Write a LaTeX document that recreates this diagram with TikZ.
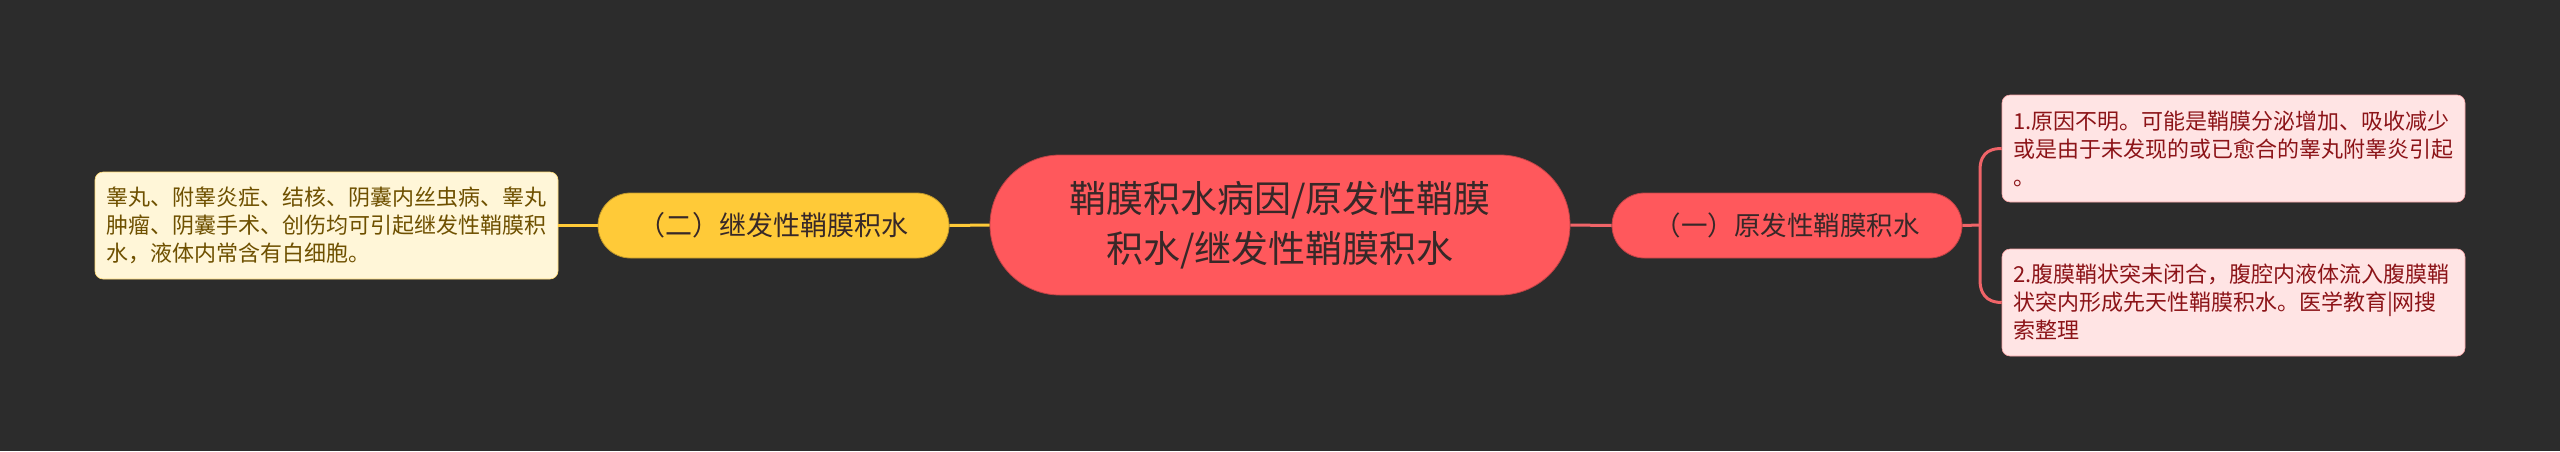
\documentclass[tikz,border=0pt]{standalone}
\usepackage{fontspec}
\setmainfont{Noto Sans CJK SC}
\definecolor{bg}{RGB}{44,44,44}
\definecolor{redfill}{RGB}{255,88,92}
\definecolor{redline}{RGB}{240,100,104}
\definecolor{yel}{RGB}{255,202,56}
\definecolor{pinkfill}{RGB}{255,228,228}
\definecolor{pinktext}{RGB}{140,20,24}
\definecolor{creamfill}{RGB}{255,246,216}
\definecolor{creamtext}{RGB}{110,80,0}
\definecolor{darktext}{RGB}{55,40,40}
\tikzset{
  centerbox/.style={fill=redfill, draw=redfill!75!black, line width=0.8pt, rounded corners=70pt, minimum width=580pt, minimum height=140pt, inner sep=0pt, align=center, text=darktext, font=\fontsize{37}{50}\selectfont},
  redbox/.style={fill=redfill, draw=redfill!75!black, line width=0.8pt, rounded corners=32.5pt, minimum width=350pt, minimum height=65pt, inner sep=0pt, text=darktext, font=\fontsize{26.5}{32}\selectfont},
  yelbox/.style={fill=yel, draw=yel!75!black, line width=0.8pt, rounded corners=32.5pt, minimum width=351pt, minimum height=65pt, inner sep=0pt, text=darktext, font=\fontsize{27}{32}\selectfont},
  leaf/.style={rounded corners=8pt, minimum height=107pt, text width=441pt, inner xsep=11pt, inner ysep=0pt, align=left, font=\fontsize{22}{28}\selectfont},
  pinkleaf/.style={leaf, fill=pinkfill, draw=redline!60!white, line width=0.6pt, text=pinktext},
  creamleaf/.style={leaf, fill=creamfill, draw=yel!70!white, line width=0.6pt, text=creamtext},
  redcon/.style={draw=redline, line width=3pt},
  yelcon/.style={draw=yel, line width=3pt},
}
\begin{document}
\begin{tikzpicture}[x=1pt,y=-1pt]
\fill[bg] (0,0) rectangle (2560,451);
\useasboundingbox (0,0) rectangle (2560,451);

\node[centerbox] (c) at (1280,225) {鞘膜积水病因/原发性鞘膜\\积水/继发性鞘膜积水};
\node[yelbox] (y) at (773.5,225.5) {（二）继发性鞘膜积水};
\node[redbox] (r) at (1787,225.5) {（一）原发性鞘膜积水};
\node[creamleaf] (l) at (326.5,225.5) {睾丸、附睾炎症、结核、阴囊内丝虫病、睾丸\\肿瘤、阴囊手术、创伤均可引起继发性鞘膜积\\水，液体内常含有白细胞。};
\node[pinkleaf] (p1) at (2233.5,148.5) {1.原因不明。可能是鞘膜分泌增加、吸收减少\\或是由于未发现的或已愈合的睾丸附睾炎引起\\。};
\node[pinkleaf] (p2) at (2233.5,302.5) {2.腹膜鞘状突未闭合，腹腔内液体流入腹膜鞘\\状突内形成先天性鞘膜积水。医学教育|网搜\\索整理};

\coordinate (j) at (1980,225);
\coordinate (ju) at (1980,170);
\coordinate (jd) at (1980,280);
\coordinate (cu) at (1980,150);
\coordinate (cd) at (1980,300);

\draw[yelcon] (l.east) -- (y.west);
\draw[yelcon] (y.east) -- (c.west);
\draw[redcon] (c.east) -- (r.west);
\draw[redcon] (r.east) -- (j);
\draw[redcon] (j) -- (ju) .. controls (cu) and ([xshift=-8pt]p1.west) .. (p1.west);
\draw[redcon] (j) -- (jd) .. controls (cd) and ([xshift=-8pt]p2.west) .. (p2.west);
\end{tikzpicture}
\end{document}
